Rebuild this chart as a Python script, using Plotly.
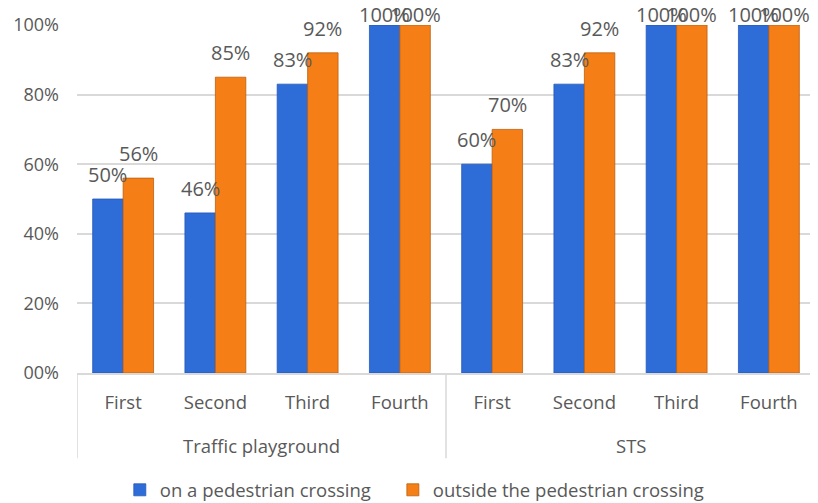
import plotly.graph_objects as go

groups = ["Traffic playground", "STS"]
stages = ["First", "Second", "Third", "Fourth", "First", "Second", "Third", "Fourth"]
on_crossing = [0.50, 0.46, 0.83, 1.00, 0.60, 0.83, 1.00, 1.00]
outside_crossing = [0.56, 0.85, 0.92, 1.00, 0.70, 0.92, 1.00, 1.00]
ytick_vals = [0, 0.2, 0.4, 0.6, 0.8, 1.0]
ytick_text = ["00%", "20%", "40%", "60%", "80%", "100%"]

FONT = "Open Sans, sans-serif"
GRAY = "#595959"
LINE = "#D9D9D9"
BAR_GAP = 0.34

xpos = list(range(len(stages)))
half = (1 - BAR_GAP) / 4  # offset of each bar centre from category centre

fig = go.Figure()
fig.add_trace(go.Bar(
    x=xpos, y=on_crossing, name="on a pedestrian crossing", legend="legend",
    showlegend=True,
    marker=dict(color="#2E6CD8", line=dict(color="#2458B8", width=0.8)),
))
fig.add_trace(go.Bar(
    x=xpos, y=outside_crossing, name="outside the pedestrian crossing", legend="legend2",
    showlegend=True,
    marker=dict(color="#F67E17", line=dict(color="#B9600F", width=0.8)),
))

annotations = []
for series, sign in ((on_crossing, -1), (outside_crossing, 1)):
    for i, v in zip(xpos, series):
        annotations.append(dict(
            x=i + sign * half, y=v, xref="x", yref="y", text=f"{round(v * 100)}%",
            showarrow=False, yanchor="bottom", yshift=9 if v < 0.999 else -5,
            font=dict(family=FONT, size=20, color=GRAY)))

# group labels and dividers beneath the axis
n_per_group = len(stages) // len(groups)
for g, name in enumerate(groups):
    annotations.append(dict(
        x=g * n_per_group + (n_per_group - 1) / 2, y=-0.207, xref="x", yref="paper",
        text=name, showarrow=False, yanchor="middle",
        font=dict(family=FONT, size=18.5, color=GRAY)))

shapes = []
for g in range(len(groups)):
    shapes.append(dict(type="line", xref="x", yref="paper",
                       x0=g * n_per_group - 0.5, x1=g * n_per_group - 0.5,
                       y0=0, y1=-0.245, line=dict(color=LINE, width=1.5)))

legend_style = dict(orientation="h", xanchor="left", y=-0.337, yanchor="middle",
                    font=dict(family=FONT, size=18.5, color=GRAY), bgcolor="rgba(0,0,0,0)")

fig.update_layout(
    width=810, height=495,
    margin=dict(l=69, r=3, t=17, b=130, autoexpand=False),
    paper_bgcolor="white", plot_bgcolor="white",
    barmode="group", bargap=BAR_GAP, bargroupgap=0,
    font=dict(family=FONT, size=18.5, color=GRAY),
    showlegend=True,
    legend=dict(x=0.058, visible=True, **legend_style),
    legend2=dict(x=0.428, visible=True, **legend_style),
    annotations=annotations, shapes=shapes,
)
fig.update_yaxes(range=[0, 1], tickvals=ytick_vals, ticktext=ytick_text,
                 showgrid=True, gridcolor=LINE, gridwidth=1.5,
                 zeroline=False, showline=False, ticks="", ticklabelstandoff=17,
                 tickfont=dict(family=FONT, size=18, color=GRAY))
fig.update_xaxes(range=[-0.5, len(stages) - 0.5], tickvals=xpos, ticktext=stages,
                 showline=True, linecolor=LINE, linewidth=1.5, showgrid=False,
                 zeroline=False, ticks="", ticklabelstandoff=12,
                 tickfont=dict(family=FONT, size=18.5, color=GRAY))

fig.write_html("out.html")
